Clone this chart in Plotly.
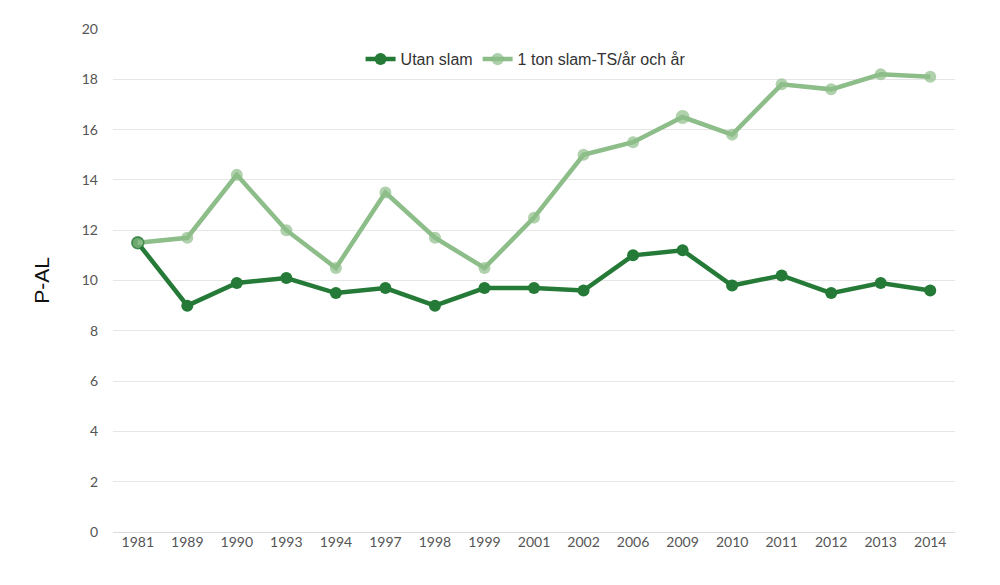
import plotly.graph_objects as go

years = ["1981", "1989", "1990", "1993", "1994", "1997", "1998", "1999", "2001",
         "2002", "2006", "2009", "2010", "2011", "2012", "2013", "2014"]
utan_slam = [11.5, 9.0, 9.9, 10.1, 9.5, 9.7, 9.0, 9.7, 9.7, 9.6, 11.0, 11.2, 9.8, 10.2, 9.5, 9.9, 9.6]
med_slam = [11.5, 11.7, 14.2, 12.0, 10.5, 13.5, 11.7, 10.5, 12.5, 15.0, 15.5, 16.5, 15.8, 17.8, 17.6, 18.2, 18.1]

dark = "#247a36"
light = "#8dbd89"

fig = go.Figure()
fig.add_trace(go.Scatter(
    x=years, y=utan_slam, name="Utan slam", mode="lines+markers",
    line=dict(color=dark, width=4.5),
    marker=dict(color=dark, size=12),
))
fig.add_trace(go.Scatter(
    x=years, y=med_slam, name="1 ton slam-TS/år och år", mode="lines+markers",
    line=dict(color=light, width=4.5),
    marker=dict(color=light, size=[12] * 11 + [14] + [12] * 5,
                line=dict(color=[dark] + [light] * 16, width=[1.5] + [0] * 16)),
))

fig.update_layout(
    width=1000, height=585,
    margin=dict(l=105, r=53, t=17, b=61),
    paper_bgcolor="white", plot_bgcolor="white",
    showlegend=True,
    legend=dict(orientation="h", x=0.49, y=0.94, xanchor="center", yanchor="middle",
                font=dict(family="Liberation Sans, Arial, sans-serif", size=16, color="#333333"),
                bgcolor="rgba(0,0,0,0)", itemwidth=30, tracegroupgap=0),
    xaxis=dict(type="category", range=[-0.5, 16.5], showgrid=False, showline=False, zeroline=False,
               ticks="", tickfont=dict(family="Lato, sans-serif", size=14, color="#555555")),
    yaxis=dict(range=[0, 20], dtick=2, showgrid=True, gridcolor="#e6e6e6", gridwidth=1,
               zeroline=True, zerolinecolor="#dcdcdc", zerolinewidth=1,
               ticks="", ticklabelstandoff=14,
               tickfont=dict(family="Lato, sans-serif", size=14, color="#555555"),
               title=dict(text="P-AL", standoff=26,
                          font=dict(family="Liberation Sans, Arial, sans-serif", size=21, color="#111111"))),
)

fig.write_html("out.html")
